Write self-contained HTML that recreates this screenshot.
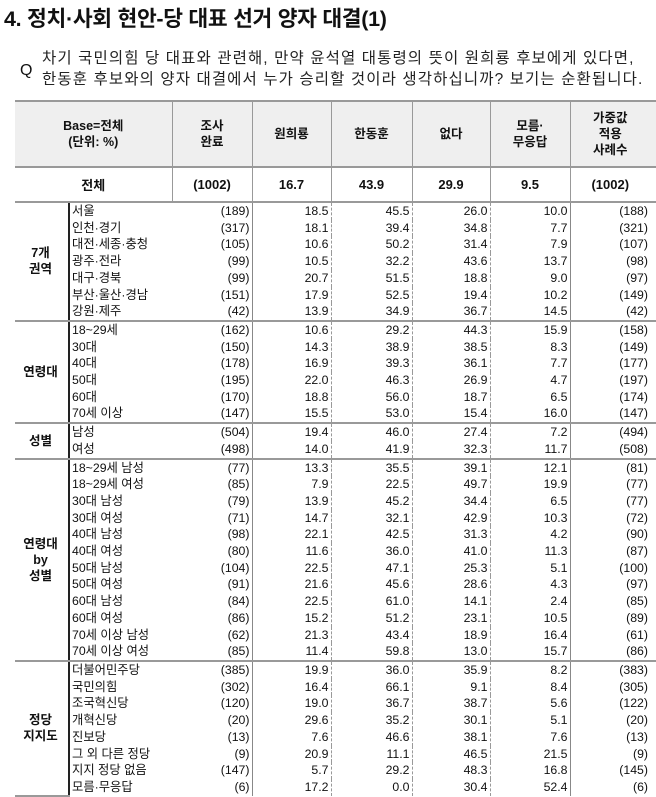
<!DOCTYPE html>
<html><head><meta charset="utf-8"><style>
body{margin:0;width:656px;height:794px;background:#fff;overflow:hidden;font-family:"Liberation Sans","Noto Sans CJK KR",sans-serif;color:#111;position:relative}
.t{position:absolute;left:4px;top:2px;font-size:21.5px;font-weight:bold;letter-spacing:-0.3px}
.q{position:absolute;left:20px;top:62px;font-size:16px}
.qt{position:absolute;left:42px;top:48px;font-size:15.5px;line-height:21px;letter-spacing:1.1px;color:#222;white-space:nowrap}
table{position:absolute;left:15px;top:100px;width:641px;border-collapse:collapse;table-layout:fixed;font-size:12.3px}
td{padding:0;white-space:nowrap;overflow:hidden}
.h td{height:64px;background:#efefef;text-align:center;font-weight:bold;font-size:12.5px;line-height:16px;border-top:2px solid #999;border-bottom:2px solid #999;border-left:1px solid #999}
.h td:first-child{border-left:none}
.tot td{height:33px;text-align:center;font-weight:bold;font-size:13px;border-bottom:2px solid #999;border-left:1px solid #999}
.tot td:first-child{border-left:none}
.d td{height:16.7px;line-height:16.7px;text-align:right;padding-right:2px}
.d td.l{text-align:left;padding-left:2px;padding-right:0;border-left:2px solid #222}
.d td.s{border-left:1px solid #888}
.d td.o{border-left:1px dashed #999}
td.g{text-align:center;font-weight:bold;line-height:16px;font-size:12.5px;border-bottom:2px solid #999}
tr.f td{border-top:2px solid #999}
</style></head><body>
<div class="t">4. 정치·사회 현안-당 대표 선거 양자 대결(1)</div>
<div class="q">Q</div>
<div class="qt">차기 국민의힘 당 대표와 관련해, 만약 윤석열 대통령의 뜻이 원희룡 후보에게 있다면,<br>한동훈 후보와의 양자 대결에서 누가 승리할 것이라 생각하십니까? 보기는 순환됩니다.</div>
<table>
<colgroup><col style="width:54px"><col style="width:103px"><col style="width:80px"><col style="width:79px"><col style="width:81px"><col style="width:78px"><col style="width:80px"><col style="width:86px"></colgroup>
<tr class="h"><td colspan="2">Base=전체<br>(단위: %)</td><td>조사<br>완료</td><td>원희룡</td><td>한동훈</td><td>없다</td><td>모름·<br>무응답</td><td style="padding-right:6px">가중값<br>적용<br>사례수</td></tr>
<tr class="tot"><td colspan="2">전체</td><td>(1002)</td><td>16.7</td><td>43.9</td><td>29.9</td><td>9.5</td><td style="padding-right:6px">(1002)</td></tr>

<tr class="d"><td class="g" rowspan="7">7개<br>권역</td><td class="l">서울</td><td>(189)</td><td class="s">18.5</td><td class="o">45.5</td><td class="o">26.0</td><td class="o">10.0</td><td class="s" style="padding-right:8px">(188)</td></tr>
<tr class="d"><td class="l">인천·경기</td><td>(317)</td><td class="s">18.1</td><td class="o">39.4</td><td class="o">34.8</td><td class="o">7.7</td><td class="s" style="padding-right:8px">(321)</td></tr>
<tr class="d"><td class="l">대전·세종·충청</td><td>(105)</td><td class="s">10.6</td><td class="o">50.2</td><td class="o">31.4</td><td class="o">7.9</td><td class="s" style="padding-right:8px">(107)</td></tr>
<tr class="d"><td class="l">광주·전라</td><td>(99)</td><td class="s">10.5</td><td class="o">32.2</td><td class="o">43.6</td><td class="o">13.7</td><td class="s" style="padding-right:8px">(98)</td></tr>
<tr class="d"><td class="l">대구·경북</td><td>(99)</td><td class="s">20.7</td><td class="o">51.5</td><td class="o">18.8</td><td class="o">9.0</td><td class="s" style="padding-right:8px">(97)</td></tr>
<tr class="d"><td class="l">부산·울산·경남</td><td>(151)</td><td class="s">17.9</td><td class="o">52.5</td><td class="o">19.4</td><td class="o">10.2</td><td class="s" style="padding-right:8px">(149)</td></tr>
<tr class="d"><td class="l">강원·제주</td><td>(42)</td><td class="s">13.9</td><td class="o">34.9</td><td class="o">36.7</td><td class="o">14.5</td><td class="s" style="padding-right:8px">(42)</td></tr>

<tr class="d f"><td class="g" rowspan="6">연령대</td><td class="l">18~29세</td><td>(162)</td><td class="s">10.6</td><td class="o">29.2</td><td class="o">44.3</td><td class="o">15.9</td><td class="s" style="padding-right:8px">(158)</td></tr>
<tr class="d"><td class="l">30대</td><td>(150)</td><td class="s">14.3</td><td class="o">38.9</td><td class="o">38.5</td><td class="o">8.3</td><td class="s" style="padding-right:8px">(149)</td></tr>
<tr class="d"><td class="l">40대</td><td>(178)</td><td class="s">16.9</td><td class="o">39.3</td><td class="o">36.1</td><td class="o">7.7</td><td class="s" style="padding-right:8px">(177)</td></tr>
<tr class="d"><td class="l">50대</td><td>(195)</td><td class="s">22.0</td><td class="o">46.3</td><td class="o">26.9</td><td class="o">4.7</td><td class="s" style="padding-right:8px">(197)</td></tr>
<tr class="d"><td class="l">60대</td><td>(170)</td><td class="s">18.8</td><td class="o">56.0</td><td class="o">18.7</td><td class="o">6.5</td><td class="s" style="padding-right:8px">(174)</td></tr>
<tr class="d"><td class="l">70세 이상</td><td>(147)</td><td class="s">15.5</td><td class="o">53.0</td><td class="o">15.4</td><td class="o">16.0</td><td class="s" style="padding-right:8px">(147)</td></tr>

<tr class="d f"><td class="g" rowspan="2">성별</td><td class="l">남성</td><td>(504)</td><td class="s">19.4</td><td class="o">46.0</td><td class="o">27.4</td><td class="o">7.2</td><td class="s" style="padding-right:8px">(494)</td></tr>
<tr class="d"><td class="l">여성</td><td>(498)</td><td class="s">14.0</td><td class="o">41.9</td><td class="o">32.3</td><td class="o">11.7</td><td class="s" style="padding-right:8px">(508)</td></tr>

<tr class="d f"><td class="g" rowspan="12">연령대<br>by<br>성별</td><td class="l">18~29세 남성</td><td>(77)</td><td class="s">13.3</td><td class="o">35.5</td><td class="o">39.1</td><td class="o">12.1</td><td class="s" style="padding-right:8px">(81)</td></tr>
<tr class="d"><td class="l">18~29세 여성</td><td>(85)</td><td class="s">7.9</td><td class="o">22.5</td><td class="o">49.7</td><td class="o">19.9</td><td class="s" style="padding-right:8px">(77)</td></tr>
<tr class="d"><td class="l">30대 남성</td><td>(79)</td><td class="s">13.9</td><td class="o">45.2</td><td class="o">34.4</td><td class="o">6.5</td><td class="s" style="padding-right:8px">(77)</td></tr>
<tr class="d"><td class="l">30대 여성</td><td>(71)</td><td class="s">14.7</td><td class="o">32.1</td><td class="o">42.9</td><td class="o">10.3</td><td class="s" style="padding-right:8px">(72)</td></tr>
<tr class="d"><td class="l">40대 남성</td><td>(98)</td><td class="s">22.1</td><td class="o">42.5</td><td class="o">31.3</td><td class="o">4.2</td><td class="s" style="padding-right:8px">(90)</td></tr>
<tr class="d"><td class="l">40대 여성</td><td>(80)</td><td class="s">11.6</td><td class="o">36.0</td><td class="o">41.0</td><td class="o">11.3</td><td class="s" style="padding-right:8px">(87)</td></tr>
<tr class="d"><td class="l">50대 남성</td><td>(104)</td><td class="s">22.5</td><td class="o">47.1</td><td class="o">25.3</td><td class="o">5.1</td><td class="s" style="padding-right:8px">(100)</td></tr>
<tr class="d"><td class="l">50대 여성</td><td>(91)</td><td class="s">21.6</td><td class="o">45.6</td><td class="o">28.6</td><td class="o">4.3</td><td class="s" style="padding-right:8px">(97)</td></tr>
<tr class="d"><td class="l">60대 남성</td><td>(84)</td><td class="s">22.5</td><td class="o">61.0</td><td class="o">14.1</td><td class="o">2.4</td><td class="s" style="padding-right:8px">(85)</td></tr>
<tr class="d"><td class="l">60대 여성</td><td>(86)</td><td class="s">15.2</td><td class="o">51.2</td><td class="o">23.1</td><td class="o">10.5</td><td class="s" style="padding-right:8px">(89)</td></tr>
<tr class="d"><td class="l">70세 이상 남성</td><td>(62)</td><td class="s">21.3</td><td class="o">43.4</td><td class="o">18.9</td><td class="o">16.4</td><td class="s" style="padding-right:8px">(61)</td></tr>
<tr class="d"><td class="l">70세 이상 여성</td><td>(85)</td><td class="s">11.4</td><td class="o">59.8</td><td class="o">13.0</td><td class="o">15.7</td><td class="s" style="padding-right:8px">(86)</td></tr>

<tr class="d f"><td class="g" rowspan="8">정당<br>지지도</td><td class="l">더불어민주당</td><td>(385)</td><td class="s">19.9</td><td class="o">36.0</td><td class="o">35.9</td><td class="o">8.2</td><td class="s" style="padding-right:8px">(383)</td></tr>
<tr class="d"><td class="l">국민의힘</td><td>(302)</td><td class="s">16.4</td><td class="o">66.1</td><td class="o">9.1</td><td class="o">8.4</td><td class="s" style="padding-right:8px">(305)</td></tr>
<tr class="d"><td class="l">조국혁신당</td><td>(120)</td><td class="s">19.0</td><td class="o">36.7</td><td class="o">38.7</td><td class="o">5.6</td><td class="s" style="padding-right:8px">(122)</td></tr>
<tr class="d"><td class="l">개혁신당</td><td>(20)</td><td class="s">29.6</td><td class="o">35.2</td><td class="o">30.1</td><td class="o">5.1</td><td class="s" style="padding-right:8px">(20)</td></tr>
<tr class="d"><td class="l">진보당</td><td>(13)</td><td class="s">7.6</td><td class="o">46.6</td><td class="o">38.1</td><td class="o">7.6</td><td class="s" style="padding-right:8px">(13)</td></tr>
<tr class="d"><td class="l">그 외 다른 정당</td><td>(9)</td><td class="s">20.9</td><td class="o">11.1</td><td class="o">46.5</td><td class="o">21.5</td><td class="s" style="padding-right:8px">(9)</td></tr>
<tr class="d"><td class="l">지지 정당 없음</td><td>(147)</td><td class="s">5.7</td><td class="o">29.2</td><td class="o">48.3</td><td class="o">16.8</td><td class="s" style="padding-right:8px">(145)</td></tr>
<tr class="d"><td class="l">모름·무응답</td><td>(6)</td><td class="s">17.2</td><td class="o">0.0</td><td class="o">30.4</td><td class="o">52.4</td><td class="s" style="padding-right:8px">(6)</td></tr>
</table>
</body></html>
